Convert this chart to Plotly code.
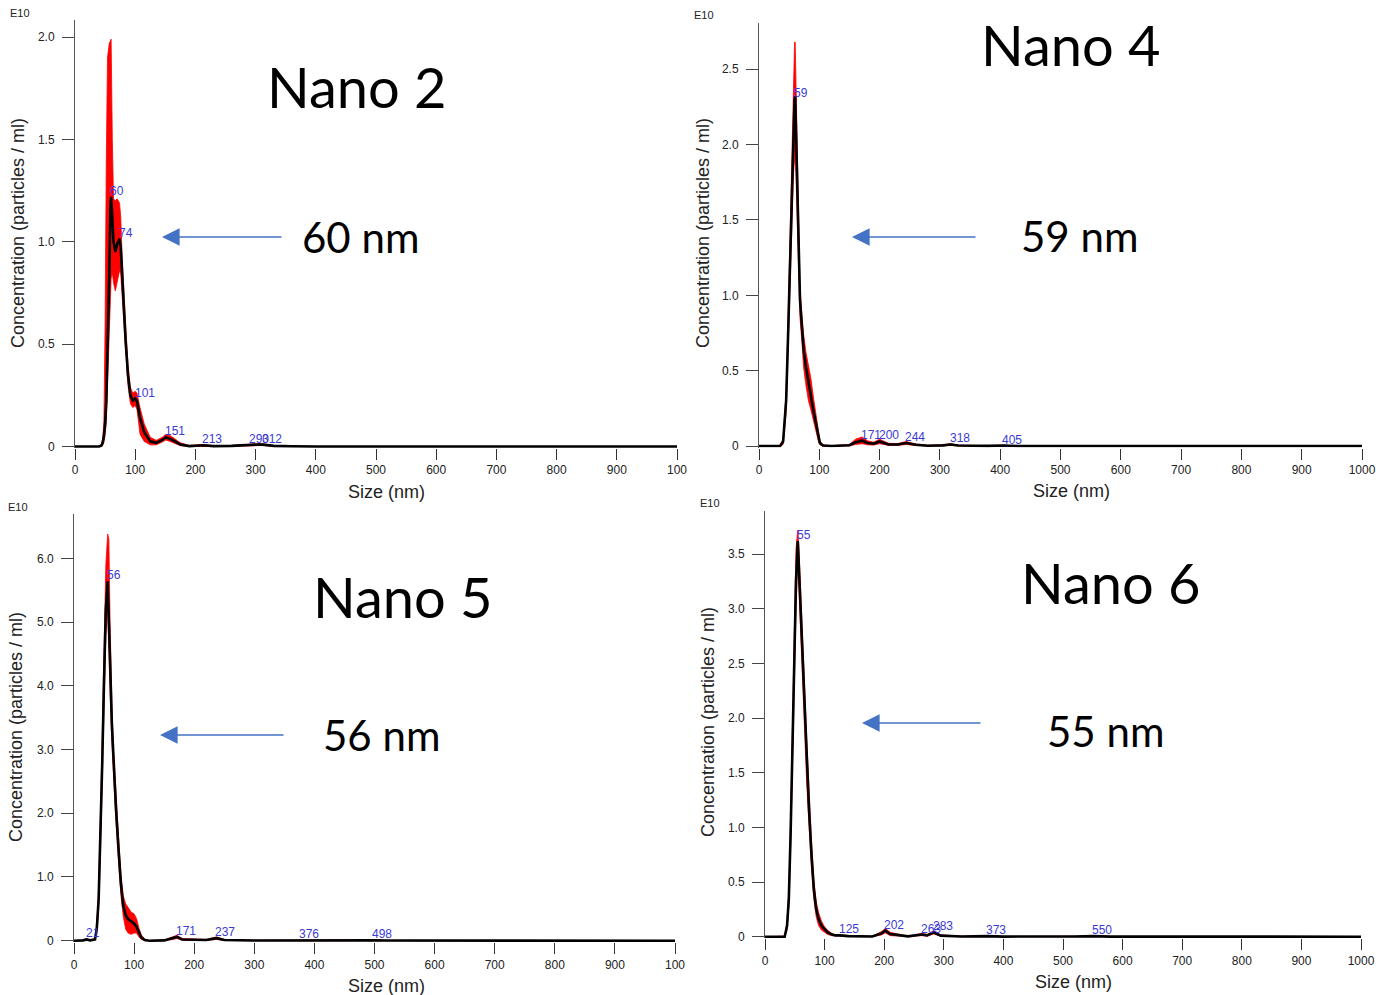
import numpy as np
import plotly.graph_objects as go

W, H = 1399, 995

# ---------------- data (concentration in units of 1e10 particles/ml) ----------------
size2 = [0, 40, 44, 46, 48, 50, 52, 54, 57, 59, 60, 62, 64, 67, 70, 74, 76, 78, 80, 84, 88, 92, 96, 100,
         103, 108, 115, 125, 135, 145, 151, 160, 175, 190, 213, 230, 260, 290, 305, 312, 330, 360, 400, 1000]
conc2 = [0, 0, 0.005, 0.02, 0.05, 0.11, 0.22, 0.45, 0.85, 1.18, 1.22, 1.12, 1.0, 0.95, 0.99, 1.015, 0.97, 0.86,
         0.74, 0.52, 0.35, 0.25, 0.225, 0.235, 0.22, 0.14, 0.07, 0.025, 0.018, 0.032, 0.045, 0.035, 0.01, 0.002,
         0.006, 0.002, 0.003, 0.009, 0.01, 0.009, 0.003, 0.001, 0, 0]
upper2 = [0, 0, 0.01, 0.04, 0.12, 0.6, 1.4, 1.9, 1.97, 1.99, 1.99, 1.5, 1.21, 1.2, 1.21, 1.19, 1.12, 0.95,
          0.82, 0.6, 0.4, 0.29, 0.26, 0.27, 0.26, 0.19, 0.11, 0.045, 0.03, 0.045, 0.06, 0.05, 0.018, 0.005,
          0.01, 0.004, 0.005, 0.013, 0.014, 0.013, 0.005, 0.002, 0, 0]
lower2 = [0, 0, 0, 0.005, 0.02, 0.06, 0.12, 0.3, 0.6, 0.78, 0.82, 0.85, 0.8, 0.76, 0.8, 0.86, 0.84, 0.75,
          0.64, 0.45, 0.3, 0.21, 0.19, 0.2, 0.18, 0.06, 0.025, 0.008, 0.008, 0.022, 0.032, 0.022, 0.004, 0,
          0.002, 0, 0.001, 0.005, 0.006, 0.005, 0.001, 0, 0, 0]
peaks2 = [60, 74, 101, 151, 213, 290, 312]

size4 = [0, 35, 40, 45, 48, 51, 54, 57, 59, 60, 62, 64, 66, 68, 71, 74, 78, 82, 86, 90, 94, 98, 101, 106,
         120, 150, 160, 171, 180, 190, 200, 215, 230, 244, 260, 280, 305, 318, 330, 380, 405, 430, 1000]
conc4 = [0, 0, 0.03, 0.3, 0.7, 1.15, 1.65, 2.08, 2.3, 2.32, 1.95, 1.55, 1.22, 0.97, 0.8, 0.64, 0.52, 0.42,
         0.33, 0.24, 0.16, 0.07, 0.02, 0.003, 0, 0.005, 0.025, 0.035, 0.02, 0.015, 0.03, 0.01, 0.01, 0.02,
         0.008, 0.002, 0.004, 0.01, 0.003, 0.001, 0.003, 0, 0]
upper4 = [0, 0, 0.05, 0.36, 0.8, 1.3, 1.9, 2.5, 2.68, 2.68, 2.2, 1.75, 1.35, 1.05, 0.88, 0.74, 0.62, 0.53,
          0.45, 0.33, 0.22, 0.1, 0.035, 0.008, 0.002, 0.01, 0.045, 0.06, 0.035, 0.025, 0.045, 0.018, 0.016,
          0.03, 0.014, 0.005, 0.008, 0.016, 0.006, 0.002, 0.005, 0, 0]
lower4 = [0, 0, 0.01, 0.22, 0.6, 1.0, 1.45, 1.8, 1.9, 2.0, 1.7, 1.35, 1.05, 0.85, 0.7, 0.52, 0.4, 0.3,
          0.24, 0.17, 0.11, 0.04, 0.008, 0, 0, 0.001, 0.01, 0.015, 0.008, 0.006, 0.015, 0.004, 0.004, 0.01,
          0.003, 0, 0.001, 0.005, 0.001, 0, 0.001, 0, 0]
peaks4 = [59, 171, 200, 244, 318, 405]

size5 = [0, 15, 21, 27, 35, 38, 41, 44, 47, 50, 53, 56, 58, 60, 63, 66, 70, 74, 78, 82, 86, 90, 95, 100,
         104, 108, 112, 118, 125, 150, 165, 171, 180, 220, 237, 250, 300, 360, 376, 395, 480, 498, 520, 1000]
conc5 = [0, 0.005, 0.02, 0.005, 0.02, 0.2, 0.65, 1.6, 2.8, 4.1, 5.2, 5.64, 5.1, 4.4, 3.4, 2.7, 2.05, 1.45,
         0.9, 0.55, 0.4, 0.34, 0.3, 0.27, 0.22, 0.12, 0.05, 0.01, 0, 0.005, 0.04, 0.06, 0.02, 0.01, 0.04,
         0.01, 0.003, 0.005, 0.01, 0.003, 0.004, 0.008, 0.002, 0]
upper5 = [0, 0.01, 0.03, 0.01, 0.04, 0.3, 0.8, 1.9, 3.2, 4.6, 5.9, 6.38, 6.3, 5.0, 3.7, 2.95, 2.2, 1.65,
          1.05, 0.7, 0.58, 0.52, 0.45, 0.42, 0.35, 0.2, 0.09, 0.02, 0.003, 0.01, 0.06, 0.085, 0.035, 0.02,
          0.06, 0.02, 0.006, 0.009, 0.016, 0.006, 0.007, 0.013, 0.004, 0]
lower5 = [0, 0, 0.01, 0, 0.005, 0.12, 0.5, 1.35, 2.5, 3.7, 4.8, 5.2, 4.7, 3.9, 3.1, 2.5, 1.85, 1.25,
          0.72, 0.38, 0.18, 0.12, 0.1, 0.12, 0.12, 0.06, 0.02, 0, 0, 0.001, 0.02, 0.035, 0.008, 0.003,
          0.02, 0.003, 0, 0.001, 0.005, 0, 0.001, 0.004, 0, 0]
peaks5 = [21, 56, 171, 237, 376, 498]

size6 = [0, 33, 37, 40, 43, 46, 49, 52, 55, 57, 60, 63, 66, 70, 74, 78, 82, 86, 90, 95, 100, 105, 112,
         118, 125, 140, 180, 195, 202, 210, 240, 263, 272, 283, 295, 330, 373, 400, 520, 550, 580, 1000]
conc6 = [0, 0, 0.1, 0.35, 0.95, 1.75, 2.55, 3.25, 3.62, 3.35, 2.95, 2.6, 2.15, 1.6, 1.15, 0.75, 0.43,
         0.25, 0.16, 0.1, 0.065, 0.04, 0.02, 0.012, 0.012, 0.005, 0.002, 0.03, 0.055, 0.025, 0.003, 0.02,
         0.012, 0.04, 0.01, 0.002, 0.005, 0.001, 0.002, 0.005, 0.001, 0]
upper6 = [0, 0.005, 0.14, 0.42, 1.08, 1.95, 2.8, 3.55, 3.72, 3.55, 3.15, 2.8, 2.35, 1.8, 1.3, 0.88, 0.52,
          0.32, 0.22, 0.14, 0.09, 0.06, 0.03, 0.02, 0.018, 0.009, 0.004, 0.045, 0.075, 0.04, 0.006, 0.03,
          0.02, 0.055, 0.016, 0.004, 0.008, 0.002, 0.004, 0.008, 0.002, 0]
lower6 = [0, 0, 0.06, 0.28, 0.82, 1.55, 2.3, 3.0, 3.45, 3.15, 2.75, 2.4, 1.95, 1.4, 1.0, 0.62, 0.34,
          0.18, 0.1, 0.06, 0.04, 0.02, 0.01, 0.005, 0.006, 0.002, 0, 0.015, 0.035, 0.01, 0.001, 0.01,
          0.005, 0.025, 0.004, 0, 0.002, 0, 0, 0.002, 0, 0]
peaks6 = [55, 125, 202, 263, 283, 373, 550]

titles = ["Nano 2", "Nano 4", "Nano 5", "Nano 6"]
mode_labels = ["60 nm", "59 nm", "56 nm", "55 nm"]
x_ticks = [0, 100, 200, 300, 400, 500, 600, 700, 800, 900, 1000]
x_ticktext_left = ["0", "100", "200", "300", "400", "500", "600", "700", "800", "900", "100"]
x_ticktext_right = ["0", "100", "200", "300", "400", "500", "600", "700", "800", "900", "1000"]
y_ticks2 = [0, 0.5, 1.0, 1.5, 2.0]
y_ticks4 = [0, 0.5, 1.0, 1.5, 2.0, 2.5]
y_ticks5 = [0, 1.0, 2.0, 3.0, 4.0, 5.0, 6.0]
y_ticks6 = [0, 0.5, 1.0, 1.5, 2.0, 2.5, 3.0, 3.5]
y_title = "Concentration (particles / ml)"
x_title = "Size (nm)"

# ---------------- layout geometry (pixels) ----------------
geo = [
    dict(x0=75, x1=677, yz=446.5, ytop=20, ppu=204.7, e10=(20, 13), yt=(18, 233), xt=(386, 492),
         big=(357, 87), nm=(360, 237), arrow=(162, 283, 237), xtext=x_ticktext_left),
    dict(x0=759, x1=1362, yz=446, ytop=22.7, ppu=150.7, e10=(704, 15), yt=(703, 233), xt=(1071, 491),
         big=(1071, 45), nm=(1079, 236), arrow=(852, 977, 237), xtext=x_ticktext_right),
    dict(x0=74, x1=675, yz=940.7, ytop=514, ppu=63.73, e10=(18, 507), yt=(16, 727), xt=(386, 986),
         big=(403, 596), nm=(381, 735), arrow=(160, 285, 735), xtext=x_ticktext_left),
    dict(x0=765, x1=1361, yz=936.7, ytop=510.7, ppu=109.3, e10=(710, 503), yt=(708, 722), xt=(1073, 982),
         big=(1111, 582), nm=(1105, 731), arrow=(862, 982, 723), xtext=x_ticktext_right),
]

datasets = [
    (size2, conc2, upper2, lower2, peaks2, y_ticks2),
    (size4, conc4, upper4, lower4, peaks4, y_ticks4),
    (size5, conc5, upper5, lower5, peaks5, y_ticks5),
    (size6, conc6, upper6, lower6, peaks6, y_ticks6),
]


def fx(px):
    return px / W


def fy(py):
    return 1 - py / H


def fmt(v):
    return "0" if v == 0 else f"{v:.1f}"


fig = go.Figure()
annotations = []
AX = "Liberation Sans, Arial, sans-serif"
BIG = "Lato, Open Sans, sans-serif"

for i, ((size, conc, up, lo, peaks, yticks), g) in enumerate(zip(datasets, geo)):
    n = "" if i == 0 else str(i + 1)
    xa, ya = "x" + n, "y" + n
    bottom_px = g["yz"] + 1.5
    ymin = -(bottom_px - g["yz"]) / g["ppu"]
    ymax = (g["yz"] - g["ytop"]) / g["ppu"]

    fig.add_trace(go.Scatter(x=size, y=lo, mode="lines", line=dict(color="#ff0000", width=0.8),
                             xaxis=xa, yaxis=ya, hoverinfo="skip", showlegend=False))
    fig.add_trace(go.Scatter(x=size, y=up, mode="lines", line=dict(color="#ff0000", width=0.8),
                             fill="tonexty", fillcolor="#ff0000",
                             xaxis=xa, yaxis=ya, hoverinfo="skip", showlegend=False))
    fig.add_trace(go.Scatter(x=size, y=conc, mode="lines", line=dict(color="#000000", width=2.6),
                             xaxis=xa, yaxis=ya, showlegend=False))

    fig.layout["xaxis" + n] = dict(
        domain=[fx(g["x0"]), fx(g["x1"])], range=[0, 1000], anchor=ya, automargin=False,
        tickvals=x_ticks, ticktext=g["xtext"], ticks="outside", ticklen=11, tickwidth=1,
        tickcolor="#333", showline=False, showgrid=False, zeroline=False,
        tickfont=dict(family=AX, size=12, color="#222"), fixedrange=True)
    fig.layout["yaxis" + n] = dict(
        domain=[fy(bottom_px), fy(g["ytop"])], range=[ymin, ymax], anchor=xa, automargin=False,
        tickvals=yticks, ticktext=[fmt(v) for v in yticks], ticks="outside", ticklen=12,
        tickwidth=1, tickcolor="#444", showline=True, linecolor="#555", linewidth=1,
        ticklabelstandoff=5,
        showgrid=False, zeroline=False, tickfont=dict(family=AX, size=12, color="#222"),
        fixedrange=True)

    # peak labels
    for p in peaks:
        yv = float(np.interp(p, size, conc))
        annotations.append(dict(x=p, y=yv, xref=xa, yref=ya, text=str(p), showarrow=False,
                                xanchor="left", yanchor="bottom", xshift=-3, yshift=-3,
                                font=dict(family=AX, size=12, color="#3a3ad6")))

    annotations.append(dict(x=fx(g["e10"][0]), y=fy(g["e10"][1]), xref="paper", yref="paper",
                            text="E10", showarrow=False, xanchor="center", yanchor="middle",
                            font=dict(family=AX, size=11, color="#222")))
    annotations.append(dict(x=fx(g["yt"][0]), y=fy(g["yt"][1]), xref="paper", yref="paper",
                            text=y_title, textangle=-90, showarrow=False, xanchor="center",
                            yanchor="middle", font=dict(family=AX, size=18, color="#222")))
    annotations.append(dict(x=fx(g["xt"][0]), y=fy(g["xt"][1]), xref="paper", yref="paper",
                            text=x_title, showarrow=False, xanchor="center", yanchor="middle",
                            font=dict(family=AX, size=18, color="#222")))
    annotations.append(dict(x=fx(g["big"][0]), y=fy(g["big"][1]), xref="paper", yref="paper",
                            text=titles[i], showarrow=False, xanchor="center", yanchor="middle",
                            font=dict(family=BIG, size=56, color="#000")))
    annotations.append(dict(x=fx(g["nm"][0]), y=fy(g["nm"][1]), xref="paper", yref="paper",
                            text=mode_labels[i], showarrow=False, xanchor="center", yanchor="middle",
                            font=dict(family=BIG, size=42, color="#000")))
    hx, tx, ay_ = g["arrow"]
    annotations.append(dict(x=fx(hx), y=fy(ay_), xref="paper", yref="paper", text="",
                            showarrow=True, ax=tx - hx, ay=0, axref="pixel", ayref="pixel",
                            arrowhead=2, arrowsize=2.2, arrowwidth=1.6, arrowcolor="#4472C4",
                            standoff=0, startstandoff=0))

fig.update_layout(width=W, height=H, margin=dict(l=0, r=0, t=0, b=0, autoexpand=False),
                  paper_bgcolor="white", plot_bgcolor="white", showlegend=False,
                  annotations=annotations)

fig.write_html("out.html", config={"displayModeBar": False},
               post_script="document.body.style.margin='0';document.body.style.overflow='hidden';")
